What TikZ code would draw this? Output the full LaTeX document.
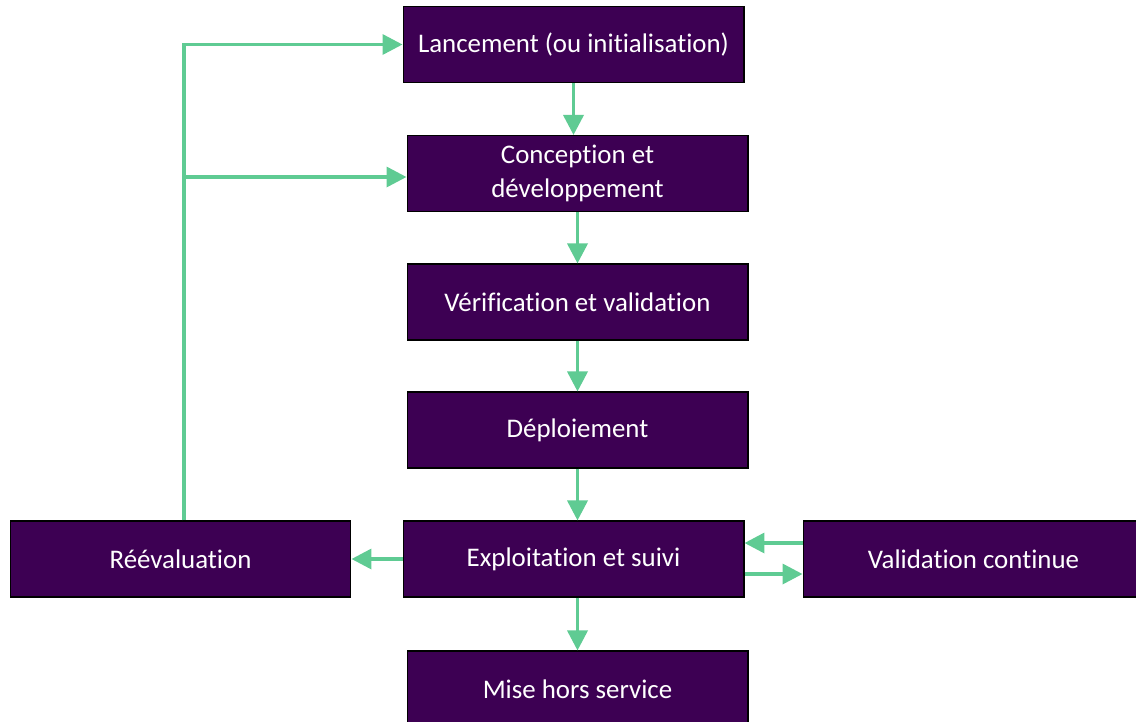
\documentclass[tikz,border=0pt]{standalone}
\usepackage{fontspec}
\setmainfont{Carlito}[Ligatures={NoCommon}]
\usepackage{xcolor}
\usepackage{tikz}
\usetikzlibrary{calc, arrows.meta}

\definecolor{phasepurple}{RGB}{61,0,83}
\definecolor{flowgreen}{RGB}{95,203,147}

\tikzset{
	phase/.style={draw=black, line width=0.6pt, fill=phasepurple, text=white,
		minimum width=6.82cm, minimum height=1.52cm, inner sep=0pt,
		align=center, font=\fontsize{15.3}{19}\selectfont},
	flow/.style={draw=flowgreen, line width=2pt,
		-{Triangle[length=0.4cm, width=0.4cm]}}
}

\begin{document}
\begin{tikzpicture}[x=0.02cm, y=-0.02cm]
			\useasboundingbox (0,0) rectangle (1136,721);

			% main column
			\node [phase] (lancement) at (573.5,44.5) {Lancement (ou initialisation)};
			\node [phase] (conception) at (577.5,173.5) {Conception et\\d\'eveloppement};
			\node [phase] (verification) at (577.5,302) {V\'erification et validation};
			\node [phase] (deploiement) at (577.5,430) {D\'eploiement};
			\node [phase] (exploitation) at (573.5,559) {Exploitation et suivi};
			\node [phase] (retrait) at (577.5,689) {Mise hors service};

			% side boxes
			\node [phase] (reevaluation) at (180.5,559) {R\'e\'evaluation};
			\node [phase] (validation) at (973.5,559) {Validation continue};

			\begin{scope}[flow]
				\draw (lancement.south) -- (lancement.south |- conception.north);
				\draw (conception.south) -- (verification.north);
				\draw (verification.south) -- (deploiement.north);
				\draw (deploiement.south) -- (deploiement.south |- exploitation.north);
				\draw (exploitation.south -| retrait.north) -- (retrait.north);
			\end{scope}

			\begin{scope}[flow]
				\draw (exploitation.west) -- (reevaluation.east);
				\draw ($ (validation.west) + (0,-16) $) -- ($ (exploitation.east) + (0,-16) $);
				\draw ($ (exploitation.east) + (0,15) $) -- ($ (validation.west) + (0,15) $);
			\end{scope}

			% feedback loop
			\coordinate (loop) at ($ (reevaluation.north) + (3.5,0) $);
			\begin{scope}[flow]
				\draw (loop) |- (lancement.west);
				\draw ($ (loop |- conception.west) + (0,3.5) $) -- ($ (conception.west) + (0,3.5) $);
			\end{scope}
		\end{tikzpicture}
\end{document}
